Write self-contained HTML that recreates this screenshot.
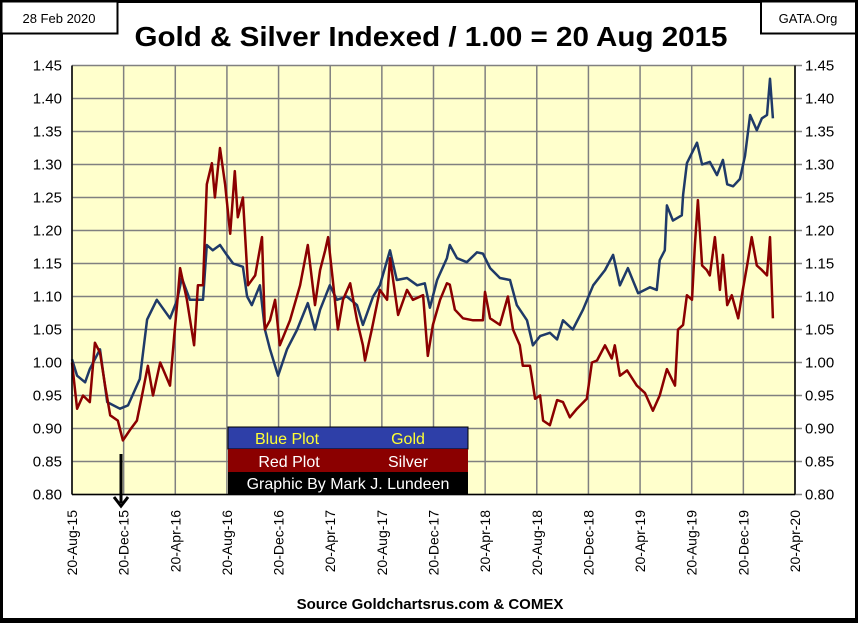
<!DOCTYPE html>
<html><head><meta charset="utf-8"><style>
html,body{margin:0;padding:0;background:#fff;}
svg{display:block;font-family:"Liberation Sans",sans-serif;}
</style></head><body>
<svg id="chart" width="858" height="623" viewBox="0 0 858 623">
<rect x="1.5" y="1.5" width="855" height="618" fill="#fff" stroke="#000" stroke-width="3"/>
<rect x="0" y="618" width="858" height="5" fill="#000"/>
<rect x="1.5" y="1.5" width="116" height="32" fill="#fff" stroke="#000" stroke-width="2"/>
<text x="59" y="23" font-size="13" text-anchor="middle">28 Feb 2020</text>
<rect x="761" y="1.5" width="95" height="32" fill="#fff" stroke="#000" stroke-width="2"/>
<text x="808" y="23" font-size="13" text-anchor="middle">GATA.Org</text>
<text x="431" y="46" font-size="28" font-weight="bold" text-anchor="middle" textLength="593" lengthAdjust="spacingAndGlyphs">Gold &amp; Silver Indexed / 1.00 = 20 Aug 2015</text>
<rect x="72" y="65.5" width="723" height="429" fill="#FFFFCC"/>
<g id="grid"></g>
<g id="ticks"></g>
<g id="series"></g>
<line x1="72" y1="65.5" x2="72" y2="494.5" stroke="#000" stroke-width="1.5"/>
<line x1="795" y1="65.5" x2="795" y2="494.5" stroke="#000" stroke-width="1.5"/>
<line x1="72" y1="494.5" x2="795" y2="494.5" stroke="#000" stroke-width="1.5"/>
<g>
<rect x="228" y="427" width="240" height="22" fill="#2E3FA8" stroke="#000" stroke-width="1"/>
<text x="287" y="444" font-size="16" fill="#FFFF33" text-anchor="middle">Blue Plot</text>
<text x="408" y="444" font-size="16" fill="#FFFF33" text-anchor="middle">Gold</text>
<rect x="228" y="449" width="240" height="23" fill="#8B0000"/>
<text x="289" y="467" font-size="16" fill="#fff" text-anchor="middle">Red Plot</text>
<text x="408" y="467" font-size="16" fill="#fff" text-anchor="middle">Silver</text>
<rect x="228" y="472" width="240" height="22" fill="#000"/>
<text x="348" y="489" font-size="16" fill="#fff" text-anchor="middle">Graphic By Mark J. Lundeen</text>
</g>
<g>
<line x1="121" y1="454" x2="121" y2="503" stroke="#000" stroke-width="3"/>
<polyline points="114,497 121,506 128,497" fill="none" stroke="#000" stroke-width="3"/>
</g>
<text x="430" y="609" font-size="15" font-weight="bold" text-anchor="middle">Source Goldchartsrus.com &amp; COMEX</text>
</svg>
<script>
const yTicks = [0.80,0.85,0.90,0.95,1.00,1.05,1.10,1.15,1.20,1.25,1.30,1.35,1.40,1.45];
const xTickLabels = ["20-Aug-15","20-Dec-15","20-Apr-16","20-Aug-16","20-Dec-16","20-Apr-17","20-Aug-17","20-Dec-17","20-Apr-18","20-Aug-18","20-Dec-18","20-Apr-19","20-Aug-19","20-Dec-19","20-Apr-20"];
const goldDays = [0,12,31,42,66,83,113,132,160,177,200,231,248,259,278,309,318,332,349,365,380,403,413,424,443,455,467,486,507,531,556,573,585,608,625,648,672,686,710,726,750,766,790,814,832,844,861,884,891,908,931,955,969,986,1009,1033,1049,1073,1087,1104,1127,1144,1158,1181,1205,1229,1257,1276,1292,1311,1335,1363,1379,1386,1398,1403,1417,1438,1441,1450,1474,1486,1504,1521,1535,1545,1559,1575,1587,1599,1615,1627,1639,1646,1653];
const goldVals = [1.005,0.98,0.97,0.99,1.02,0.94,0.93,0.935,0.975,1.065,1.095,1.067,1.095,1.128,1.095,1.095,1.178,1.17,1.178,1.163,1.15,1.145,1.10,1.087,1.117,1.05,1.02,0.98,1.02,1.05,1.09,1.05,1.08,1.117,1.095,1.10,1.087,1.057,1.10,1.117,1.17,1.125,1.128,1.117,1.12,1.083,1.125,1.158,1.178,1.158,1.152,1.167,1.165,1.143,1.128,1.125,1.087,1.064,1.026,1.04,1.045,1.035,1.064,1.05,1.08,1.117,1.14,1.163,1.117,1.143,1.105,1.114,1.11,1.155,1.17,1.238,1.215,1.223,1.254,1.302,1.333,1.30,1.304,1.284,1.307,1.27,1.267,1.278,1.313,1.375,1.352,1.37,1.375,1.43,1.37];
const silverDays = [0,12,26,42,54,66,78,90,108,120,137,153,165,179,191,208,231,241,248,255,271,288,297,309,318,330,337,349,361,373,384,391,403,415,432,448,455,467,479,490,514,538,556,573,585,597,604,615,627,639,656,672,686,691,707,726,743,750,769,790,804,828,839,851,868,884,891,903,922,946,969,974,986,1009,1028,1040,1056,1063,1080,1092,1104,1111,1127,1144,1158,1174,1191,1214,1226,1238,1257,1273,1280,1292,1309,1332,1351,1370,1386,1403,1422,1429,1441,1450,1462,1469,1476,1486,1497,1504,1516,1528,1535,1545,1556,1571,1582,1592,1603,1615,1627,1639,1646,1653];
const silverVals = [1.0,0.93,0.95,0.94,1.03,1.015,0.965,0.92,0.912,0.882,0.898,0.912,0.95,0.995,0.95,1.0,0.965,1.04,1.09,1.143,1.095,1.026,1.117,1.117,1.27,1.302,1.25,1.325,1.27,1.195,1.29,1.22,1.25,1.117,1.132,1.19,1.05,1.064,1.095,1.026,1.064,1.117,1.178,1.087,1.14,1.17,1.19,1.125,1.05,1.095,1.12,1.064,1.026,1.003,1.05,1.11,1.095,1.158,1.072,1.11,1.095,1.102,1.01,1.057,1.095,1.12,1.118,1.08,1.067,1.064,1.064,1.107,1.067,1.057,1.10,1.05,1.026,0.995,0.995,0.945,0.95,0.912,0.905,0.943,0.94,0.917,0.93,0.945,1.0,1.003,1.026,1.006,1.026,0.98,0.988,0.965,0.954,0.927,0.95,0.99,0.965,1.05,1.057,1.102,1.095,1.178,1.246,1.147,1.14,1.132,1.19,1.11,1.163,1.087,1.102,1.067,1.11,1.147,1.19,1.147,1.14,1.132,1.19,1.067];

const NS = "http://www.w3.org/2000/svg";
const PL = 72, PR = 795, PT = 65.5, PB = 494.5;
const TOTAL_DAYS = 1705;
function xScale(d){ return PL + d / TOTAL_DAYS * (PR - PL); }
function yScale(v){ return PB - (v - 0.80) / (1.45 - 0.80) * (PB - PT); }

const grid = document.getElementById('grid');
const ticks = document.getElementById('ticks');
yTicks.forEach((v) => {
  const y = yScale(v);
  const l = document.createElementNS(NS, 'line');
  l.setAttribute('x1', PL); l.setAttribute('x2', PR + 7);
  l.setAttribute('y1', y); l.setAttribute('y2', y);
  l.setAttribute('stroke', '#808080'); l.setAttribute('stroke-width', '1.5');
  
  
  grid.appendChild(l);
  const t1 = document.createElementNS(NS, 'text');
  t1.setAttribute('x', 62); t1.setAttribute('y', y + 5);
  t1.setAttribute('font-size', '15'); t1.setAttribute('text-anchor', 'end');
  t1.textContent = v.toFixed(2);
  
  
  ticks.appendChild(t1);
  const t2 = document.createElementNS(NS, 'text');
  t2.setAttribute('x', 805); t2.setAttribute('y', y + 5);
  t2.setAttribute('font-size', '15');
  t2.textContent = v.toFixed(2);
  
  
  ticks.appendChild(t2);
});
xTickLabels.forEach((lab, i) => {
  const x = PL + i * (PR - PL) / (xTickLabels.length - 1);
  const l = document.createElementNS(NS, 'line');
  l.setAttribute('x1', x); l.setAttribute('x2', x);
  l.setAttribute('y1', PT); l.setAttribute('y2', PB);
  l.setAttribute('stroke', '#808080'); l.setAttribute('stroke-width', '1.5');
  
  
  grid.appendChild(l);
  const t = document.createElementNS(NS, 'text');
  t.setAttribute('transform', 'translate(' + (x + 5) + ',510) rotate(-90)');
  t.setAttribute('font-size', '14'); t.setAttribute('text-anchor', 'end');
  t.textContent = lab;
  
  
  ticks.appendChild(t);
});

const series = document.getElementById('series');
function drawLine(days, vals, color, name){
  const pts = days.map((d, i) => xScale(d).toFixed(1) + ',' + yScale(vals[i]).toFixed(1)).join(' ');
  const p = document.createElementNS(NS, 'polyline');
  p.setAttribute('points', pts);
  p.setAttribute('fill', 'none');
  p.setAttribute('stroke', color);
  p.setAttribute('stroke-width', '2.5');
  p.setAttribute('stroke-linejoin', 'round');
  
  
  series.appendChild(p);
}
drawLine(goldDays, goldVals, '#1F3A68', 'gold-line');
drawLine(silverDays, silverVals, '#8B0000', 'silver-line');
</script>
</body></html>
